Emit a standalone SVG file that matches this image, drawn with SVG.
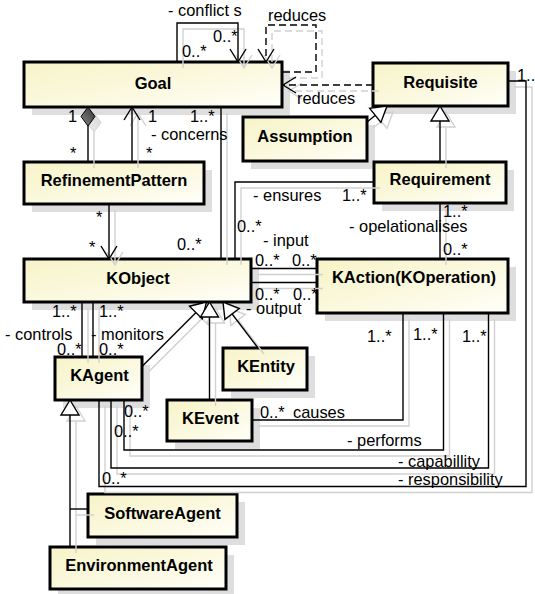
<svg xmlns="http://www.w3.org/2000/svg" xmlns:xlink="http://www.w3.org/1999/xlink" width="535" height="594" viewBox="0 0 535 594">
  <style>
    .box { fill: url(#boxfill); stroke: #000; stroke-width: 3; }
    .drop { fill: #dedede; }
    .name { font: bold 16.5px "Liberation Sans", Arial, sans-serif; text-anchor: middle; fill: #000; }
    .lbl { font: 16.4px "Liberation Sans", Arial, sans-serif; fill: #000; }
    .c { fill: none; stroke: #000; stroke-width: 1.4; }
    .dash { stroke-dasharray: 7 4; }
    .open { marker-end: url(#openArrow); }
    .gen { marker-end: url(#hollowTri); }
  </style>
  <defs>
    <linearGradient id="boxfill" x1="0" y1="0" x2="1" y2="1">
      <stop offset="0" stop-color="#f7f3c8"/>
      <stop offset="0.55" stop-color="#fbf9e0"/>
      <stop offset="1" stop-color="#fffffa"/>
    </linearGradient>
    <linearGradient id="diamondfill" x1="0" y1="0" x2="1" y2="1">
      <stop offset="0" stop-color="#333"/>
      <stop offset="1" stop-color="#888"/>
    </linearGradient>
    <marker id="openArrow" markerUnits="userSpaceOnUse" viewBox="-16 -11 18 22" refX="0" refY="0" markerWidth="18" markerHeight="22" orient="auto">
      <path d="M-13,-8 L0,0 L-13,8" fill="none" stroke="#000" stroke-width="1.4"/>
    </marker>
    <marker id="hollowTri" markerUnits="userSpaceOnUse" viewBox="-17 -11 19 22" refX="0" refY="0" markerWidth="19" markerHeight="22" orient="auto">
      <path d="M0,0 L-15,-9 L-15,9 Z" fill="#fff" stroke="#000" stroke-width="1.4"/>
    </marker>
    <marker id="diamond" markerUnits="userSpaceOnUse" viewBox="-2 -9 23 18" refX="0" refY="0" markerWidth="23" markerHeight="18" orient="auto">
      <path d="M0,0 L9.5,-7 L19,0 L9.5,7 Z" fill="url(#diamondfill)" stroke="#000" stroke-width="1"/>
    </marker>
    <!-- turns dark strokes into a pale grey drop shadow, white fills become transparent -->
    <filter id="ghost" x="-5%" y="-5%" width="110%" height="110%" color-interpolation-filters="sRGB">
      <feColorMatrix type="matrix" values="0 0 0 0 0.82  0 0 0 0 0.82  0 0 0 0 0.82  -1 0 0 1 0"/>
    </filter>
  </defs>

  <rect width="535" height="594" fill="#fff"/>

  <!-- drop shadows of the classes -->
  <g id="box-shadows">
    <rect class="drop" x="32" y="70" width="258" height="45"/>
    <rect class="drop" x="381" y="71" width="135" height="43"/>
    <rect class="drop" x="251" y="125" width="124" height="44"/>
    <rect class="drop" x="382" y="170" width="132" height="41"/>
    <rect class="drop" x="32" y="170" width="180" height="42"/>
    <rect class="drop" x="32" y="267" width="227" height="43"/>
    <rect class="drop" x="325" y="267" width="191" height="54"/>
    <rect class="drop" x="63" y="365" width="87" height="43"/>
    <rect class="drop" x="231" y="356" width="84" height="42"/>
    <rect class="drop" x="175" y="408" width="85" height="41"/>
    <rect class="drop" x="96" y="502" width="149" height="43"/>
    <rect class="drop" x="58" y="555" width="176" height="42"/>
  </g>

  <g id="Goal"><rect class="box" x="24" y="62" width="258" height="45"/><text class="name" x="153" y="89">Goal</text></g>
  <g id="Requisite"><rect class="box" x="373" y="63" width="135" height="43"/><text class="name" x="440.5" y="88">Requisite</text></g>
  <g id="Assumption"><rect class="box" x="243" y="117" width="124" height="44"/><text class="name" x="305" y="142">Assumption</text></g>
  <g id="Requirement"><rect class="box" x="374" y="162" width="132" height="41"/><text class="name" x="440" y="185">Requirement</text></g>
  <g id="RefinementPattern"><rect class="box" x="24" y="162" width="180" height="42"/><text class="name" x="114" y="186">RefinementPattern</text></g>
  <g id="KObject"><rect class="box" x="24" y="259" width="227" height="43"/><text class="name" x="138" y="283.5">KObject</text></g>
  <g id="KAction"><rect class="box" x="317" y="259" width="191" height="54"/><text class="name" x="414" y="283">KAction(KOperation)</text></g>
  <g id="KAgent"><rect class="box" x="55" y="357" width="87" height="43"/><text class="name" x="99.5" y="381">KAgent</text></g>
  <g id="KEntity"><rect class="box" x="223" y="348" width="84" height="42"/><text class="name" x="266" y="372">KEntity</text></g>
  <g id="KEvent"><rect class="box" x="167" y="400" width="85" height="41"/><text class="name" x="210.5" y="423.5">KEvent</text></g>
  <g id="SoftwareAgent"><rect class="box" x="88" y="494" width="149" height="43"/><text class="name" x="162.5" y="518.5">SoftwareAgent</text></g>
  <g id="EnvironmentAgent"><rect class="box" x="50" y="547" width="176" height="42"/><text class="name" x="139" y="571">EnvironmentAgent</text></g>

  <!-- pale offset copy of every connector -->
  <g transform="translate(6,6)" filter="url(#ghost)">
    <use xlink:href="#connectors" href="#connectors"/>
  </g>

  <g id="connectors">
    <!-- Goal self associations -->
    <path class="c open" d="M177,62 V23 H238 V62"/>
    <path class="c dash open" d="M283,72 H316 V25 H266 V62"/>
    <!-- Requisite reduces Goal -->
    <path class="c dash open" d="M373,85 H283"/>
    <!-- generalisations to Requisite -->
    <path class="c gen" d="M367,122 L387,106"/>
    <path class="c gen" d="M440,162 V106"/>
    <!-- Goal / RefinementPattern -->
    <path class="c" d="M88,107 V162" marker-start="url(#diamond)"/>
    <path class="c open" d="M132,162 V107"/>
    <path class="c open" d="M109,204 V259"/>
    <!-- Goal concerns KObject -->
    <path class="c" d="M221,107 V259"/>
    <!-- Requirement ensures KObject -->
    <path class="c" d="M374,182 H235 V259"/>
    <!-- KAction operationalises Requirement -->
    <path class="c" d="M440,259 V203"/>
    <!-- input / output -->
    <path class="c" d="M251,268.5 H317"/>
    <path class="c" d="M251,282.5 H317"/>
    <!-- controls / monitors -->
    <path class="c" d="M82,302 V357"/>
    <path class="c" d="M93,302 V357"/>
    <!-- generalisations to KObject -->
    <path class="c gen" d="M142.5,366 L206.5,302"/>
    <path class="c gen" d="M209.5,400 V302"/>
    <path class="c gen" d="M258,348 L223,302"/>
    <!-- KEvent causes -->
    <path class="c" d="M252,420 H403 V313"/>
    <!-- KAgent performs / capability / responsibility -->
    <path class="c" d="M124,400 V450 H443.5 V313"/>
    <path class="c" d="M111,400 V468 H488.5 V313"/>
    <path class="c" d="M99,400 V486.5 H526 V81 H508"/>
    <!-- agent specialisations -->
    <path class="c gen" d="M70,547 V400"/>
    <path class="c" d="M88,509 H70"/>
  </g>

  <g id="labels" class="lbl">
    <text class="lbl" x="168" y="16">- conflict s</text>
    <text class="lbl" x="213" y="41.5">0..*</text>
    <text class="lbl" x="182" y="57">0..*</text>
    <text class="lbl" x="268" y="21">reduces</text>
    <text class="lbl" x="297" y="104">reduces</text>
    <text class="lbl" x="517" y="81">1..*</text>
    <text class="lbl" x="68" y="122">1</text>
    <text class="lbl" x="148" y="122">1</text>
    <text class="lbl" x="190" y="122">1..*</text>
    <text class="lbl" x="151" y="140">- concerns</text>
    <text class="lbl" x="70" y="159">*</text>
    <text class="lbl" x="146" y="159">*</text>
    <text class="lbl" x="96" y="223">*</text>
    <text class="lbl" x="89" y="253">*</text>
    <text class="lbl" x="177" y="250">0..*</text>
    <text class="lbl" x="253" y="201">- ensures</text>
    <text class="lbl" x="342" y="201">1..*</text>
    <text class="lbl" x="237" y="232">0..*</text>
    <text class="lbl" x="349" y="232">- opelationalises</text>
    <text class="lbl" x="443" y="217">1..*</text>
    <text class="lbl" x="263" y="246">- input</text>
    <text class="lbl" x="443" y="255">0..*</text>
    <text class="lbl" x="255" y="266">0..*</text>
    <text class="lbl" x="292" y="266">0..*</text>
    <text class="lbl" x="255" y="300">0..*</text>
    <text class="lbl" x="293" y="300">0..*</text>
    <text class="lbl" x="246" y="313.5">- output</text>
    <text class="lbl" x="52" y="317">1..*</text>
    <text class="lbl" x="99" y="317">1..*</text>
    <text class="lbl" x="5" y="340">- controls</text>
    <text class="lbl" x="91" y="340">- monitors</text>
    <text class="lbl" x="57" y="355">0..*</text>
    <text class="lbl" x="99" y="355">0..*</text>
    <text class="lbl" x="367" y="342">1..*</text>
    <text class="lbl" x="413" y="340">1..*</text>
    <text class="lbl" x="462" y="342">1..*</text>
    <text class="lbl" x="124" y="417">0..*</text>
    <text class="lbl" x="114" y="437">0..*</text>
    <text class="lbl" x="260" y="418">0..*</text>
    <text class="lbl" x="293" y="418">causes</text>
    <text class="lbl" x="347" y="446">- performs</text>
    <text class="lbl" x="398" y="467">- capabillity</text>
    <text class="lbl" x="102" y="484">0..*</text>
    <text class="lbl" x="398" y="485">- responsibility</text>
  </g>
</svg>
